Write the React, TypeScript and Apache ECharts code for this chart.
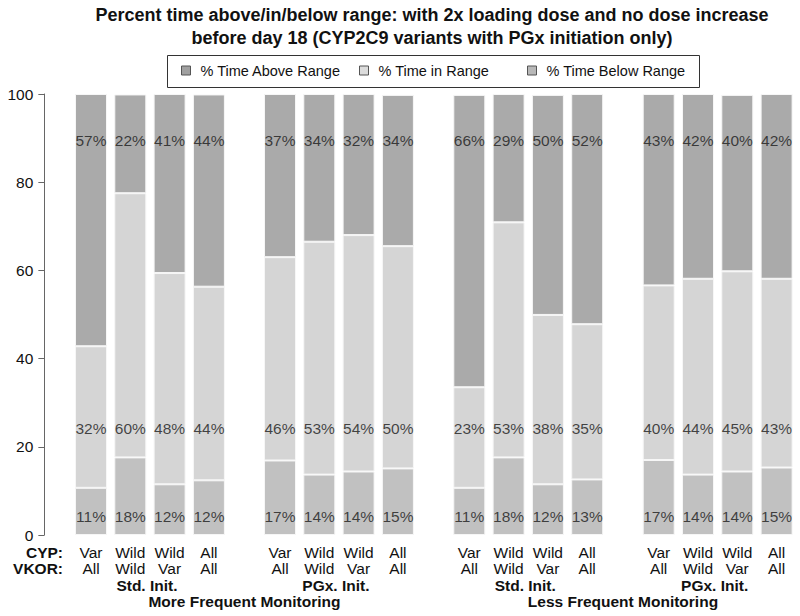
import React, { useEffect, useRef } from "react";
import * as echarts from "echarts";

// ---- data ----
const groupNames = ["Std. Init.", "PGx. Init.", "Std. Init.", "PGx. Init."];
const monitoringNames = ["More Frequent Monitoring", "Less Frequent Monitoring"];
const cypLabels = ["Var", "Wild", "Wild", "All"];
const vkorLabels = ["All", "Wild", "Var", "All"];
const yTicks = [0, 20, 40, 60, 80, 100];

// 16 bars: 4 groups x 4 genotype combos
const belowRange = [10.7, 17.6, 11.5, 12.4, 16.9, 13.7, 14.4, 15.1, 10.7, 17.6, 11.5, 12.6, 17.0, 13.7, 14.4, 15.3];
const inRange = [32.1, 59.9, 47.9, 43.9, 46.1, 52.8, 53.6, 50.4, 22.8, 53.3, 38.4, 35.2, 39.6, 44.4, 45.4, 42.8];
const aboveRange = [57.2, 22.4, 40.6, 43.6, 37.0, 33.5, 32.0, 34.3, 66.3, 29.1, 49.9, 52.2, 43.4, 41.9, 40.0, 41.9];

const SERIES = [
  { name: "% Time Below Range", values: belowRange, color: "#c1c1c1", legendColor: "#b8b8b8", labelY: 4.2 },
  { name: "% Time in Range", values: inRange, color: "#d5d5d5", legendColor: "#dcdcdc", labelY: 24.2 },
  { name: "% Time Above Range", values: aboveRange, color: "#aaaaaa", legendColor: "#a0a0a0", labelY: 89.4 },
];

const FONT = "'Liberation Sans', Arial, Helvetica, sans-serif";

export default function App() {
  const ref = useRef<HTMLDivElement>(null);
  useEffect(() => {
    if (!ref.current) return;
    const chart = echarts.init(ref.current, null, { renderer: "svg" });

    const gridLefts = [71.35, 260.35, 449.65, 639.05];
    const gridWidth = 157.2;
    const grids = gridLefts.map((l) => ({ left: l, top: 94, width: gridWidth, height: 441 }));

    const xAxes = gridLefts.map((_, g) => ({
      type: "category",
      gridIndex: g,
      data: cypLabels.map((c, i) => `${c}\n${vkorLabels[i]}`),
      axisLine: { show: false },
      axisTick: { show: false },
      axisLabel: {
        interval: 0,
        margin: 9,
        fontFamily: FONT,
        fontSize: 15.5,
        lineHeight: 16.5,
        color: "#111",
      },
    }));

    const yAxes = gridLefts.map((_, g) => ({
      type: "value",
      gridIndex: g,
      min: 0,
      max: 100,
      interval: 20,
      show: g === 0,
      offset: 27,
      axisLine: { show: true, lineStyle: { color: "#666", width: 1 } },
      axisTick: { show: true, length: 6, lineStyle: { color: "#666" } },
      splitLine: { show: false },
      axisLabel: {
        margin: 11,
        fontFamily: FONT,
        fontSize: 15.5,
        color: "#111",
        formatter: (v: number) => (yTicks.includes(v) ? String(v) : ""),
      },
    }));

    const series: any[] = [];
    gridLefts.forEach((_, g) => {
      SERIES.forEach((s) => {
        series.push({
          type: "bar",
          name: s.name,
          xAxisIndex: g,
          yAxisIndex: g,
          stack: "stack" + g,
          barWidth: 32,
          data: s.values.slice(g * 4, g * 4 + 4),
          itemStyle: { color: s.color, borderColor: "#f6f6f6", borderWidth: 1 },
        });
      });
      SERIES.forEach((s) => {
        series.push({
          type: "scatter",
          name: s.name + " label",
          xAxisIndex: g,
          yAxisIndex: g,
          silent: true,
          symbolSize: 0.1,
          itemStyle: { color: "transparent" },
          data: s.values.slice(g * 4, g * 4 + 4).map((v, i) => ({ value: [i, s.labelY], pct: v })),
          label: {
            show: true,
            position: "inside",
            fontFamily: FONT,
            fontSize: 15.5,
            color: "#1a1a1a",
            formatter: (p: any) => Math.round(p.data.pct) + "%",
          },
          z: 10,
        });
      });
    });

    const legendBase = {
      orient: "horizontal",
      top: 63,
      itemWidth: 9,
      itemHeight: 9,
      icon: "rect",
      padding: 0,
      selectedMode: false,
      textStyle: { fontFamily: FONT, fontSize: 14.5, color: "#111", padding: [0, 0, 0, 5] },
    };
    const legendLefts = [181, 359, 527];
    const legendOrder = [SERIES[2], SERIES[1], SERIES[0]];
    const legends = legendOrder.map((s, i) => ({
      ...legendBase,
      left: legendLefts[i],
      data: [{ name: s.name, itemStyle: { color: s.legendColor, borderColor: "#555", borderWidth: 1 } }],
    }));

    const gcx = gridLefts.map((l) => l + gridWidth / 2);
    const titleStyle = {
      fontFamily: FONT,
      fontWeight: "bold",
      fontSize: 18,
      fill: "#111",
      textAlign: "center",
      textVerticalAlign: "middle",
    };
    const graphic: any[] = [
      {
        type: "text",
        x: 432,
        y: 15,
        style: { ...titleStyle, text: "Percent time above/in/below range: with 2x loading dose and no dose increase" },
      },
      {
        type: "text",
        x: 432,
        y: 38,
        style: { ...titleStyle, text: "before day 18 (CYP2C9 variants with PGx initiation only)" },
      },
      {
        type: "rect",
        shape: { x: 167.5, y: 55.5, width: 532, height: 32 },
        style: { fill: "none", stroke: "#333", lineWidth: 1 },
      },
      {
        type: "text",
        x: 63,
        y: 552,
        style: { text: "CYP:", fontFamily: FONT, fontWeight: "bold", fontSize: 15.5, fill: "#111", textAlign: "right", textVerticalAlign: "middle" },
      },
      {
        type: "text",
        x: 63,
        y: 568.5,
        style: { text: "VKOR:", fontFamily: FONT, fontWeight: "bold", fontSize: 15.5, fill: "#111", textAlign: "right", textVerticalAlign: "middle" },
      },
      ...groupNames.map((n, i) => ({
        type: "text",
        x: gcx[i] - 3,
        y: 585,
        style: { text: n, fontFamily: FONT, fontWeight: "bold", fontSize: 15.5, fill: "#111", textAlign: "center", textVerticalAlign: "middle" },
      })),
      ...monitoringNames.map((n, i) => ({
        type: "text",
        x: (gcx[i * 2] + gcx[i * 2 + 1]) / 2,
        y: 601.5,
        style: { text: n, fontFamily: FONT, fontWeight: "bold", fontSize: 15.5, fill: "#111", textAlign: "center", textVerticalAlign: "middle" },
      })),
    ];

    chart.setOption({
      animation: false,
      backgroundColor: "#fff",
      grid: grids,
      xAxis: xAxes,
      yAxis: yAxes,
      legend: legends,
      series,
      graphic,
    });
    return () => chart.dispose();
  }, []);
  return (
    <div
      ref={ref}
      style={{ position: "fixed", left: 0, top: 0, width: 800, height: 616 }}
    />
  );
}
